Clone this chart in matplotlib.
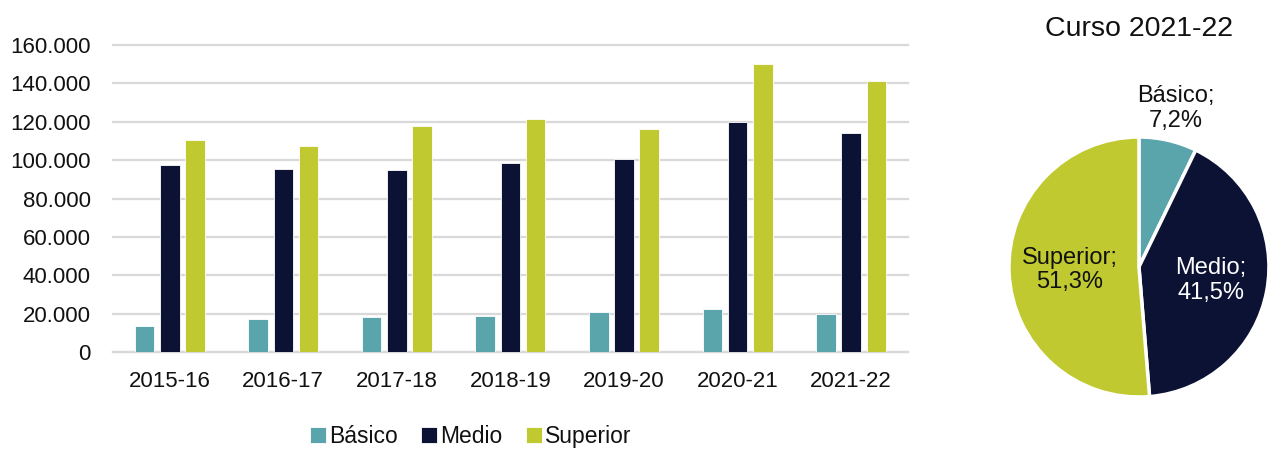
import numpy as np
import matplotlib
matplotlib.use("Agg")
import matplotlib.pyplot as plt
from matplotlib.ticker import FuncFormatter, MultipleLocator

plt.rcParams['font.family'] = ['Liberation Sans', 'DejaVu Sans']

# Data
cursos = ['2015-16', '2016-17', '2017-18', '2018-19', '2019-20', '2020-21', '2021-22']
basico = [13700, 17300, 18500, 19000, 21000, 22500, 19800]
medio = [97500, 95600, 95100, 98400, 100500, 119700, 114200]
superior = [110400, 107400, 118000, 121600, 116100, 149900, 141200]
niveles = ['Básico', 'Medio', 'Superior']
pie_pct = [7.2, 41.5, 51.3]

colores = ['#5AA4AC', '#0C1234', '#C0CA30']
txt = '#111111'

fig = plt.figure(figsize=(12.72, 4.49), dpi=100)

# Bar chart
ax = fig.add_axes([0.0888, 0.216, 0.625, 0.6837])
x = np.arange(len(cursos))
w = 0.172
off = 0.222
for i, (serie, nombre) in enumerate(zip([basico, medio, superior], niveles)):
    ax.bar(x + (i - 1) * off, serie, width=w, color=colores[i], label=nombre,
           edgecolor='white', linewidth=0.6, zorder=3)

ax.set_xlim(-0.5, len(cursos) - 0.5)
ax.set_ylim(0, 160000)
ax.yaxis.set_major_locator(MultipleLocator(20000))
ax.yaxis.set_major_formatter(FuncFormatter(lambda v, p: f'{int(v):,}'.replace(',', '.')))
ax.set_xticks(x)
ax.set_xticklabels(cursos)
ax.tick_params(axis='both', length=0, labelsize=16, colors=txt)
ax.tick_params(axis='y', pad=16)
ax.tick_params(axis='x', pad=14)
ax.grid(axis='y', color='#d9d9d9', linewidth=1.6, zorder=0, clip_on=False)
for s in ['top', 'right', 'left']:
    ax.spines[s].set_visible(False)
ax.spines['bottom'].set_color('#d9d9d9')
ax.spines['bottom'].set_linewidth(1.6)

ax.legend(loc='center', bbox_to_anchor=(0.37, 0.027), bbox_transform=fig.transFigure,
          ncol=3, frameon=False, fontsize=16.5, handlelength=0.7, handleheight=0.7,
          handletextpad=0.15, columnspacing=1.0, labelcolor=txt)

# Pie chart
ax2 = fig.add_axes([0.7932, 0.1158, 0.2044, 0.5791])
wedges, _ = ax2.pie(pie_pct, colors=colores, startangle=90, counterclock=False,
                    wedgeprops=dict(edgecolor='white', linewidth=2.5))
ax2.set_xlim(-1, 1)
ax2.set_ylim(-1, 1)
ax2.set_aspect('equal')

dists = [1.25, 0.56, 0.53]
tcolors = [txt, 'white', txt]
for wdg, nombre, pct, d, c in zip(wedges, niveles, pie_pct, dists, tcolors):
    ang = np.deg2rad((wdg.theta1 + wdg.theta2) / 2)
    lab = f'{nombre};\n{pct:.1f}%'.replace('.', ',')
    ax2.text(d * np.cos(ang), d * np.sin(ang), lab, ha='center', va='center',
             fontsize=17, color=c, linespacing=1.15)

fig.text(0.8954, 0.935, 'Curso 2021-22', ha='center', va='center', fontsize=20.5, color=txt)

fig.savefig('out.png', dpi=100)
